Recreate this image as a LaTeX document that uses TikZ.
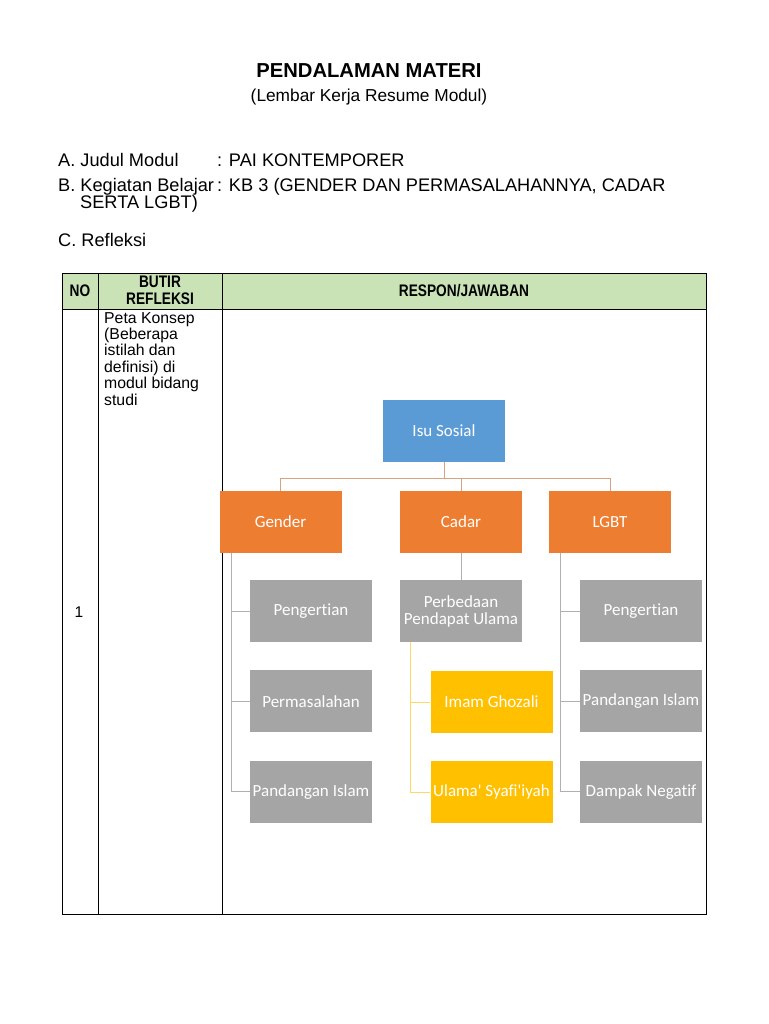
\documentclass[tikz,border=0pt]{standalone}
\usepackage{fontspec}
\usepackage{xcolor}
\usetikzlibrary{positioning}
\setmainfont{Liberation Sans}
\newfontfamily\narrowfont[FakeStretch=0.82]{Liberation Sans}
\newfontfamily\chartfont[Ligatures={TeXOff,NoCommon}]{Carlito}
\definecolor{hdrgreen}{HTML}{C9E2B6}
\definecolor{isublue}{HTML}{5B9BD5}
\definecolor{toporange}{HTML}{ED7D31}
\definecolor{subgray}{HTML}{A5A5A5}
\definecolor{subyellow}{HTML}{FFC000}
\definecolor{lnorange}{HTML}{D9A27E}
\definecolor{lngray}{HTML}{B0B0B0}
\definecolor{lnyellow}{HTML}{FFD966}

\begin{document}
\begin{tikzpicture}[
  x=1pt,y=-1pt,
  body/.style={anchor=base west,inner sep=0pt,font=\fontsize{18.2}{16.5}\selectfont},
  hdr/.style={align=center,inner sep=0pt,font=\narrowfont\bfseries\fontsize{16.7}{16.5}\selectfont},
  box/.style={minimum width=122pt,minimum height=62pt,inner sep=0pt,align=center,text=white,
    font=\chartfont\fontsize{17}{19}\selectfont},
  isu/.style={box,fill=isublue},
  topic/.style={box,fill=toporange},
  sub/.style={box,fill=subgray},
  subsub/.style={box,fill=subyellow},
  olink/.style={draw=lnorange,line width=1pt},
  glink/.style={draw=lngray,line width=1pt},
  ylink/.style={draw=lnyellow,line width=1pt}
]
\useasboundingbox[fill=white] (0,0) rectangle (768,1024);

% heading
\node[inner sep=0pt,anchor=base,font=\bfseries\fontsize{20.2}{22}\selectfont] (title) at (369,78) {PENDALAMAN MATERI};
\node[inner sep=0pt,anchor=base,font=\fontsize{17.3}{18}\selectfont] (subtitle) at (369,102) {(Lembar Kerja Resume Modul)};

\node[body] (judul) at (58,167) {A. Judul Modul};
\node[body] (judulv) at (217,167) {: PAI KONTEMPORER};
\node[body] (kb) at (58,192) {B. Kegiatan Belajar};
\node[body] (kbv) at (217,192) {: KB 3 (GENDER DAN PERMASALAHANNYA, CADAR};
\node[body] (kbv2) at (80,209) {SERTA LGBT)};
\node[body] (refl) at (58,247) {C. Refleksi};

% table
\fill[hdrgreen] (62,273) rectangle (706,309);
\draw[black,line width=0.9pt] (62,273) rectangle (706,914);
\draw[black,line width=0.9pt] (62,309) -- (706,309);
\draw[black,line width=0.9pt] (98,273) -- (98,914);
\draw[black,line width=0.9pt] (222,273) -- (222,914);
\node[hdr] (hno) at (80,291) {NO};
\node[hdr] (hbutir) at (160,290.5) {BUTIR\\REFLEKSI};
\node[hdr] (hresp) at (464,291) {RESPON/JAWABAN};
\node[inner sep=0pt,font=\fontsize{15.5}{16}\selectfont] (no1) at (79,612) {1};
\node[anchor=north west,inner sep=0pt,align=left,font=\fontsize{15.8}{16.4}\selectfont] (butir1) at (104,312)
  {Peta Konsep\\(Beberapa\\istilah dan\\definisi) di\\modul bidang\\studi};

% concept map
\node[isu] (isusosial) at (444,431) {Isu Sosial};
\node[topic] (gender) at (280.5,522) {Gender};
\node[topic] (cadar) at (461,522) {Cadar};
\node[topic] (lgbt) at (610,522) {LGBT};

\node[sub] (gpeng) at (311,611) {Pengertian};
\node[sub,below=28pt of gpeng] (gmasalah) {Permasalahan};
\node[sub,below=28pt of gmasalah] (gislam) {Pandangan Islam};

\node[sub] (perbedaan) at (461,611) {Perbedaan\\[-2pt]Pendapat Ulama};
\node[subsub] (ghozali) at (491.5,702) {Imam Ghozali};
\node[subsub,below=28pt of ghozali] (syafiiyah) {Ulama' Syafi'iyah};

\node[sub] (lpeng) at (641,611) {Pengertian};
\node[sub,below=28pt of lpeng] (lislam) {Pandangan Islam};
\node[sub,below=28pt of lislam] (ldampak) {Dampak Negatif};

\draw[olink] (isusosial.south) -- ++(0,16) coordinate (hub);
\draw[olink] (hub) -| (gender.north);
\draw[olink] (hub) -| (cadar.north);
\draw[olink] (hub) -| (lgbt.north);

\coordinate (gtrunk) at ([xshift=12pt]gender.south west);
\draw[glink] (gtrunk) |- (gpeng.west);
\draw[glink] (gtrunk) |- (gmasalah.west);
\draw[glink] (gtrunk) |- (gislam.west);

\draw[glink] (cadar.south) -- (perbedaan.north);
\coordinate (ytrunk) at ([xshift=11pt]perbedaan.south west);
\draw[ylink] (ytrunk) |- (ghozali.west);
\draw[ylink] (ytrunk) |- (syafiiyah.west);

\coordinate (ltrunk) at ([xshift=12pt]lgbt.south west);
\draw[glink] (ltrunk) |- (lpeng.west);
\draw[glink] (ltrunk) |- (lislam.west);
\draw[glink] (ltrunk) |- (ldampak.west);
\end{tikzpicture}
\end{document}
